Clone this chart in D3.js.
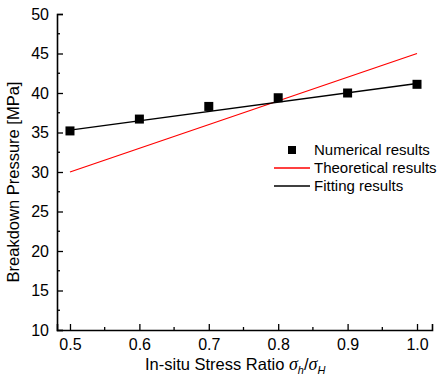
<!DOCTYPE html>
<html>
<head>
<meta charset="utf-8">
<script src="https://cdn.jsdelivr.net/npm/d3@7"></script>
<style>
  body { margin: 0; background: #fff; }
  text { font-family: Arial, "Liberation Sans", sans-serif; fill: #000; }
</style>
</head>
<body>
<script>
// data
let ratios = [0.5, 0.6, 0.7, 0.8, 0.9, 1.0];
let numerical = [35.2, 36.7, 38.3, 39.4, 40.0, 41.1];
let theoryX = [0.5, 1.0];
let theoretical = [30, 45];
let fitX = [0.5, 1.0];
let fitting = [35.3, 41.2];
let xTicks = [0.5, 0.6, 0.7, 0.8, 0.9, 1.0];
let yTicks = [10, 15, 20, 25, 30, 35, 40, 45, 50];
let legendItems = ["Numerical results", "Theoretical results", "Fitting results"];

let width = 437, height = 378;
let svg = d3.select("body").append("svg")
    .attr("width", width)
    .attr("height", height);

let x = d3.scaleLinear().domain([0.4813, 1.0216]).range([57, 432]);
let y = d3.scaleLinear().domain([10, 50]).range([330, 14]);

// axes, ticks pointing inward
let xAxis = svg.append("g")
    .attr("transform", "translate(0,330)")
    .call(d3.axisBottom(x).tickValues(xTicks).tickFormat(d3.format(".1f")).tickSize(-6).tickPadding(9));
xAxis.append("g").selectAll("line")
    .data(d3.range(0.55, 1.0, 0.1))
    .enter().append("line")
    .attr("x1", d => x(d)).attr("x2", d => x(d))
    .attr("y1", 0).attr("y2", -3)
    .attr("stroke", "#000").attr("stroke-width", 1.3);

let yAxis = svg.append("g")
    .attr("transform", "translate(57,0)")
    .call(d3.axisLeft(y).tickValues(yTicks).tickSize(-6).tickPadding(8));
yAxis.append("g").selectAll("line")
    .data(d3.range(12.5, 50, 5))
    .enter().append("line")
    .attr("x1", 0).attr("x2", 3)
    .attr("y1", d => y(d)).attr("y2", d => y(d))
    .attr("stroke", "#000").attr("stroke-width", 1.3);

[xAxis, yAxis].forEach(a => {
    a.select(".domain").attr("stroke-width", 1.6);
    a.selectAll(".tick line").attr("stroke-width", 1.3);
    a.selectAll(".tick text").attr("font-size", 16).attr("font-family", "Arial, 'Liberation Sans', sans-serif");
});

// axis titles
svg.append("text")
    .attr("transform", "translate(19,182) rotate(-90)")
    .attr("text-anchor", "middle")
    .attr("font-size", 16.5)
    .text("Breakdown Pressure [MPa]");

let xt = svg.append("text")
    .attr("x", 145).attr("y", 370)
    .attr("font-size", 16.5);
xt.append("tspan").text("In-situ Stress Ratio ");
xt.append("tspan").attr("font-style", "italic").attr("font-family", "'Times New Roman', 'Liberation Serif', serif").attr("font-size", 18).text("σ");
xt.append("tspan").attr("font-style", "italic").attr("font-size", 11).attr("dy", 4).text("h");
xt.append("tspan").attr("font-size", 16.5).attr("dy", -4).text("/");
xt.append("tspan").attr("font-style", "italic").attr("font-family", "'Times New Roman', 'Liberation Serif', serif").attr("font-size", 18).text("σ");
xt.append("tspan").attr("font-style", "italic").attr("font-size", 11).attr("dy", 4).text("H");

// lines
let line = d3.line().x(d => x(d[0])).y(d => y(d[1]));
svg.append("path")
    .datum(d3.zip(theoryX, theoretical))
    .attr("d", line)
    .attr("fill", "none").attr("stroke", "#ff0000").attr("stroke-width", 1.3);
svg.append("path")
    .datum(d3.zip(fitX, fitting))
    .attr("d", line)
    .attr("fill", "none").attr("stroke", "#000").attr("stroke-width", 1.5);

// numerical points
svg.selectAll(".pt")
    .data(d3.zip(ratios, numerical))
    .enter().append("rect")
    .attr("class", "pt")
    .attr("x", d => x(d[0]) - 4.5)
    .attr("y", d => y(d[1]) - 4.5)
    .attr("width", 9).attr("height", 9)
    .attr("fill", "#000");

// legend
let lg = svg.append("g");
lg.append("rect").attr("x", 288).attr("y", 146).attr("width", 8).attr("height", 8).attr("fill", "#000");
lg.append("line").attr("x1", 274).attr("x2", 310).attr("y1", 168).attr("y2", 168)
    .attr("stroke", "#ff0000").attr("stroke-width", 1.3);
lg.append("line").attr("x1", 274).attr("x2", 310).attr("y1", 186).attr("y2", 186)
    .attr("stroke", "#000").attr("stroke-width", 1.5);
lg.selectAll("text")
    .data(legendItems)
    .enter().append("text")
    .attr("x", 314)
    .attr("y", (d, i) => 150 + i * 18)
    .attr("dy", "0.35em")
    .attr("font-size", 15)
    .text(d => d);
</script>
</body>
</html>
